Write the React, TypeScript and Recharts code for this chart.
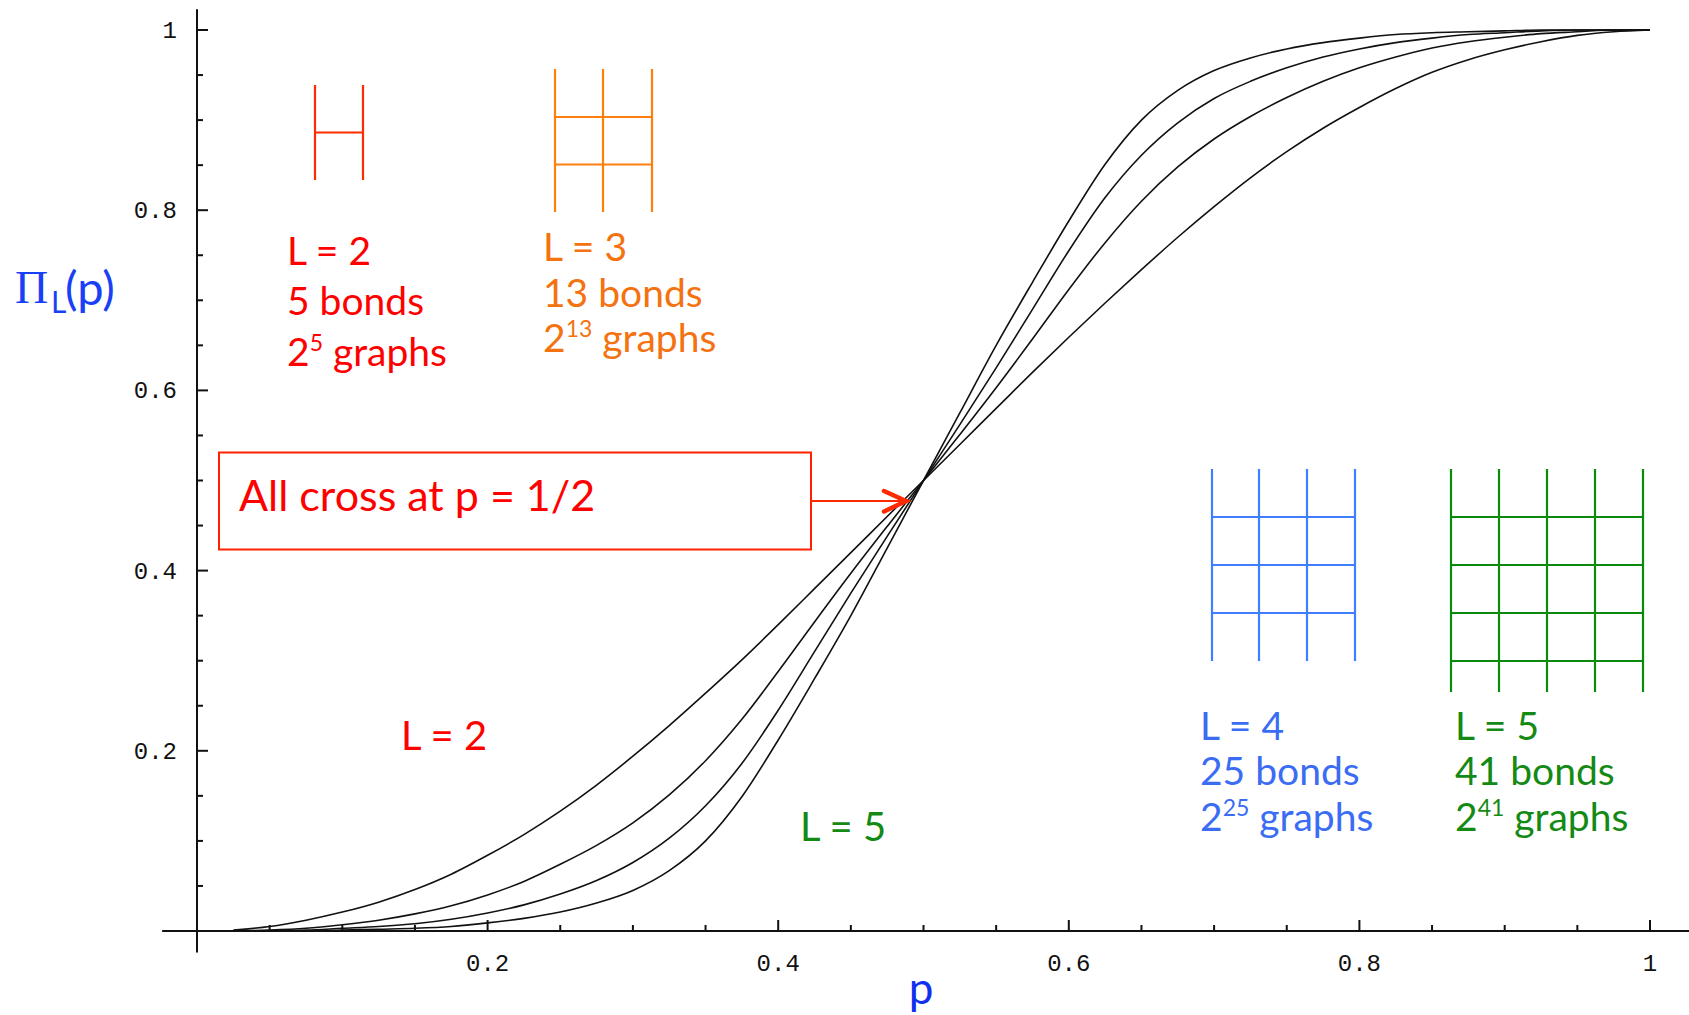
import React from 'react';
import { LineChart, Line, XAxis, YAxis, ReferenceLine } from 'recharts';

// p values and crossing probabilities, one list per lattice size
const pValues = [
  0.025, 0.05, 0.075, 0.1, 0.125, 0.15, 0.175, 0.2, 0.225, 0.25, 0.275, 0.3, 0.325, 0.35, 0.375, 0.4, 0.425, 0.45, 0.475, 0.5,
  0.525, 0.55, 0.575, 0.6, 0.625, 0.65, 0.675, 0.7, 0.725, 0.75, 0.775, 0.8, 0.825, 0.85, 0.875, 0.9, 0.925, 0.95, 0.975, 1,
];
const piL2 = [
  0.001, 0.005, 0.012, 0.021, 0.032, 0.046, 0.063, 0.084, 0.107, 0.133, 0.162, 0.194, 0.228, 0.264, 0.301, 0.34, 0.38, 0.42, 0.46, 0.5,
  0.54, 0.58, 0.62, 0.659, 0.697, 0.734, 0.77, 0.804, 0.836, 0.865, 0.891, 0.914, 0.935, 0.953, 0.967, 0.978, 0.987, 0.994, 0.998, 1,
];
const piL3 = [
  0, 0.001, 0.003, 0.007, 0.012, 0.019, 0.028, 0.04, 0.055, 0.074, 0.095, 0.12, 0.151, 0.189, 0.235, 0.288, 0.343, 0.397, 0.449, 0.5,
  0.551, 0.603, 0.657, 0.712, 0.764, 0.81, 0.848, 0.879, 0.904, 0.925, 0.943, 0.958, 0.97, 0.98, 0.987, 0.992, 0.996, 0.998, 1, 1,
];
const piL4 = [
  0, 0, 0.001, 0.003, 0.005, 0.008, 0.013, 0.02, 0.029, 0.041, 0.056, 0.076, 0.103, 0.139, 0.186, 0.245, 0.31, 0.375, 0.438, 0.5,
  0.562, 0.625, 0.69, 0.755, 0.814, 0.861, 0.897, 0.924, 0.943, 0.958, 0.97, 0.979, 0.986, 0.991, 0.995, 0.997, 0.999, 1, 1, 1,
];
const piL5 = [
  0, 0, 0, 0.001, 0.002, 0.003, 0.005, 0.009, 0.014, 0.021, 0.031, 0.045, 0.067, 0.1, 0.149, 0.212, 0.28, 0.35, 0.425, 0.5,
  0.575, 0.65, 0.72, 0.788, 0.851, 0.9, 0.933, 0.955, 0.969, 0.979, 0.986, 0.991, 0.995, 0.997, 0.998, 0.999, 1, 1, 1, 1,
];

const allTicks = [0.05, 0.1, 0.15, 0.2, 0.25, 0.3, 0.35, 0.4, 0.45, 0.5, 0.55, 0.6, 0.65, 0.7, 0.75, 0.8, 0.85, 0.9, 0.95, 1];
const majorTicks = [0.2, 0.4, 0.6, 0.8, 1];
const majorLabels = ['0.2', '0.4', '0.6', '0.8', '1'];

// axis lines run a little past the origin, as in the original plot
const xAxisExtent = [-0.024, 1.03];
const yAxisExtent = [-0.024, 1.023];

const data = pValues.map((p, i) => ({ p, L2: piL2[i], L3: piL3[i], L4: piL4[i], L5: piL5[i] }));

const W = 1689;
const H = 1015;
const sans = 'Lato, "Open Sans", sans-serif';
const mono = '"Liberation Mono", "DejaVu Sans Mono", monospace';

const majorIndex = (v: number) => majorTicks.findIndex((t) => Math.abs(t - v) < 1e-6);

const XTick = (props: any) => {
  const { x, y, payload } = props;
  const i = majorIndex(payload.value);
  return (
    <g>
      <line x1={x} x2={x} y1={y} y2={y - (i >= 0 ? 11 : 6)} stroke="#111" strokeWidth={2} />
      {i >= 0 && (
        <text x={x} y={y + 40} textAnchor="middle" fontFamily={mono} fontSize={24} fill="#111">
          {majorLabels[i]}
        </text>
      )}
    </g>
  );
};

const YTick = (props: any) => {
  const { x, y, payload } = props;
  const i = majorIndex(payload.value);
  return (
    <g>
      <line x1={x} x2={x + (i >= 0 ? 11 : 6)} y1={y} y2={y} stroke="#111" strokeWidth={2} />
      {i >= 0 && (
        <text x={x - 20} y={y + 8} textAnchor="end" fontFamily={mono} fontSize={24} fill="#111">
          {majorLabels[i]}
        </text>
      )}
    </g>
  );
};

const Lattice = ({ xs, top, rows, bottom, color }: { xs: number[]; top: number; rows: number[]; bottom: number; color: string }) => (
  <g stroke={color} strokeWidth={2.2}>
    {xs.map((x) => (
      <line key={'v' + x} x1={x} x2={x} y1={top} y2={bottom} />
    ))}
    {rows.map((y) => (
      <line key={'h' + y} x1={xs[0]} x2={xs[xs.length - 1]} y1={y} y2={y} />
    ))}
  </g>
);

const InfoBlock = ({ x, ys, color, L, bonds, exp }: { x: number; ys: number[]; color: string; L: string; bonds: string; exp: string }) => (
  <g fill={color} fontFamily={sans} fontSize={39}>
    <text x={x} y={ys[0]}>L = {L}</text>
    <text x={x} y={ys[1]}>{bonds} bonds</text>
    <text x={x} y={ys[2]}>
      2<tspan fontSize={23} dy={-15}>{exp}</tspan>
      <tspan dy={15}> graphs</tspan>
    </text>
  </g>
);

const Overlay = () => (
  <svg width={W} height={H} style={{ position: 'absolute', left: 0, top: 0, pointerEvents: 'none' }}>
    {/* lattice sketches */}
    <Lattice xs={[315, 363]} top={85} rows={[132.5]} bottom={180} color="#ff2a00" />
    <Lattice xs={[555, 603, 652]} top={69} rows={[117, 164.5]} bottom={212} color="#ff7f0e" />
    <Lattice xs={[1212, 1259, 1307, 1355]} top={469} rows={[517, 565, 613]} bottom={661} color="#3f7fff" />
    <Lattice xs={[1451, 1499, 1547, 1595, 1643]} top={469} rows={[517, 565, 613, 661]} bottom={692} color="#0a8a0a" />

    <InfoBlock x={287} ys={[265, 315, 366]} color="#ff0000" L="2" bonds="5" exp="5" />
    <InfoBlock x={543} ys={[261, 306.5, 352]} color="#f47210" L="3" bonds="13" exp="13" />
    <InfoBlock x={1200} ys={[740, 785, 831]} color="#3a6cf4" L="4" bonds="25" exp="25" />
    <InfoBlock x={1455} ys={[740, 785, 831]} color="#148a14" L="5" bonds="41" exp="41" />

    <text x={401} y={750} fill="#ff0000" fontFamily={sans} fontSize={40}>L = 2</text>
    <text x={800} y={841} fill="#148a14" fontFamily={sans} fontSize={40}>L = 5</text>

    {/* callout */}
    <rect x={219} y={452.5} width={592} height={97} fill="none" stroke="#ff2200" strokeWidth={2} />
    <text x={239} y={511} fill="#ff0000" fontFamily={sans} fontSize={43}>All cross at p = 1/2</text>
    <line x1={811} x2={904} y1={501} y2={501} stroke="#ff2a00" strokeWidth={1.8} />
    <polyline points="884,491 906,501 884,511.5" fill="none" stroke="#ff2a00" strokeWidth={4.5} strokeLinecap="round" />

    {/* axis titles */}
    <text x={15} y={303} fill="#1a40f5" fontFamily='"Liberation Serif", serif' fontSize={46}>Π</text>
    <text x={51} y={313} fill="#1a40f5" fontFamily={sans} fontSize={30}>L</text>
    <text x={65} y={305} fill="#1a40f5" fontFamily={sans} fontSize={47}>(p)</text>
    <text x={921} y={1004} textAnchor="middle" fill="#1030f0" fontFamily={sans} fontSize={44}>p</text>
  </svg>
);

const App: React.FC = () => {
  return (
    <div style={{ position: 'absolute', left: 0, top: 0, width: W, height: H, background: '#fff' }}>
      <LineChart width={W} height={H} data={data} margin={{ top: 30, right: 39, bottom: 0, left: 0 }}>
        <XAxis
          dataKey="p"
          type="number"
          domain={[0, 1]}
          ticks={allTicks}
          interval={0}
          height={84}
          tickSize={0}
          tickMargin={0}
          tickLine={false}
          axisLine={false}
          tick={(props: any) => <XTick {...props} />}
        />
        <YAxis
          type="number"
          domain={[0, 1]}
          ticks={allTicks}
          interval={0}
          width={197}
          tickSize={0}
          tickMargin={0}
          tickLine={false}
          axisLine={false}
          tick={(props: any) => <YTick {...props} />}
        />
        <ReferenceLine
          segment={[{ x: xAxisExtent[0], y: 0 }, { x: xAxisExtent[1], y: 0 }]}
          ifOverflow="visible"
          stroke="#111"
          strokeWidth={2}
        />
        <ReferenceLine
          segment={[{ x: 0, y: yAxisExtent[0] }, { x: 0, y: yAxisExtent[1] }]}
          ifOverflow="visible"
          stroke="#111"
          strokeWidth={2}
        />
        <Line type="monotone" dataKey="L2" stroke="#111" strokeWidth={1.6} dot={false} isAnimationActive={false} />
        <Line type="monotone" dataKey="L3" stroke="#111" strokeWidth={1.6} dot={false} isAnimationActive={false} />
        <Line type="monotone" dataKey="L4" stroke="#111" strokeWidth={1.6} dot={false} isAnimationActive={false} />
        <Line type="monotone" dataKey="L5" stroke="#111" strokeWidth={1.6} dot={false} isAnimationActive={false} />
      </LineChart>
      <Overlay />
    </div>
  );
};

export default App;
